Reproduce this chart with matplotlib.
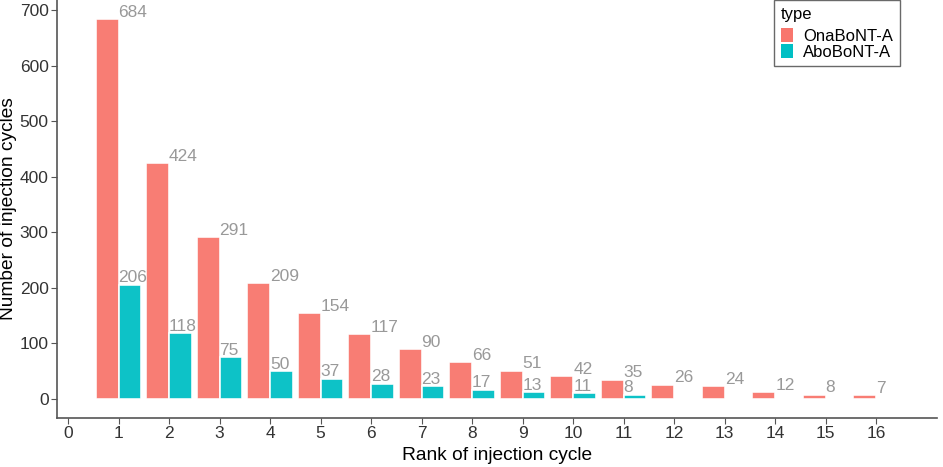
import numpy as np
import matplotlib.pyplot as plt
from matplotlib.patches import Patch

#========== DATA ==========#

ranks = [1, 2, 3, 4, 5, 6, 7, 8, 9, 10, 11, 12, 13, 14, 15, 16]
ona_counts = [684, 424, 291, 209, 154, 117, 90, 66, 51, 42, 35, 26, 24, 12, 8, 7]
abo_ranks = [1, 2, 3, 4, 5, 6, 7, 8, 9, 10, 11]
abo_counts = [206, 118, 75, 50, 37, 28, 23, 17, 13, 11, 8]
series_names = ["OnaBoNT-A", "AboBoNT-A"]
x_ticks = list(range(0, 17))
y_ticks = [0, 100, 200, 300, 400, 500, 600, 700]

#========== PLOT ==========#

plt.rcParams['font.family'] = ['Liberation Sans', 'DejaVu Sans']

RED = '#F8766D'
TEAL = '#00BFC4'
W = 0.45

fig = plt.figure(figsize=(9.43, 4.67), dpi=100)
ax = fig.add_axes([0.0604, 0.105, 0.933, 0.895])

ax.bar(np.array(ranks) - W / 2, ona_counts, width=W, color=RED, alpha=0.95,
       edgecolor='white', linewidth=1.2)
ax.bar(np.array(abo_ranks) + W / 2, abo_counts, width=W, color=TEAL, alpha=0.95,
       edgecolor='white', linewidth=1.2)

# labels start at the rank position, just above each bar
for r, v in zip(ranks, ona_counts):
    ax.text(r, v + 4, str(v), ha='left', va='baseline', color='#999999', fontsize=12.5)
for r, v in zip(abo_ranks, abo_counts):
    ax.text(r, v + 4, str(v), ha='left', va='baseline', color='#999999', fontsize=12.5)

ax.set_xlim(-0.22, 17.2)
ax.set_ylim(-34, 718)
ax.set_xticks(x_ticks)
ax.set_yticks(y_ticks)
ax.tick_params(labelsize=12.5, labelcolor='#333333', color='#555555',
               length=4, width=0.8, pad=2)

for s in ['top', 'right']:
    ax.spines[s].set_visible(False)
for s in ['left', 'bottom']:
    ax.spines[s].set_color('#555555')
    ax.spines[s].set_linewidth(1.2)

ax.set_xlabel("Rank of injection cycle", fontsize=13.8, labelpad=4)
ax.set_ylabel("Number of injection cycles", fontsize=13.8)
ax.yaxis.set_label_coords(-0.045, 0.5)

handles = [Patch(facecolor=RED, edgecolor='none'), Patch(facecolor=TEAL, edgecolor='none')]
leg = fig.legend(handles, series_names, title="type", loc='upper left',
                 bbox_to_anchor=(774 / 943, 0.999), fontsize=12, title_fontsize=12,
                 frameon=True, fancybox=False, edgecolor='#444444',
                 handlelength=0.75, handleheight=0.95, handletextpad=0.6,
                 labelspacing=0.0, borderpad=0.4, borderaxespad=0)
leg._legend_box.align = 'left'
leg._legend_box.sep = 4
leg.get_frame().set_linewidth(1.0)

fig.savefig("out.png", dpi=100)
